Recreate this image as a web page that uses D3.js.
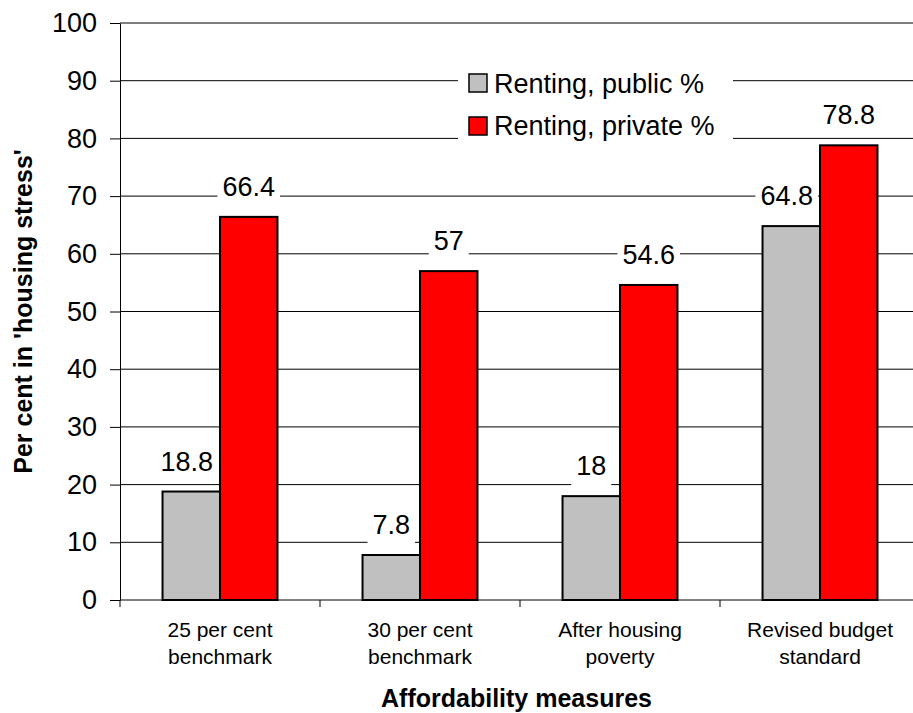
<!DOCTYPE html>
<html>
<head>
<meta charset="utf-8">
<script src="https://cdn.jsdelivr.net/npm/d3@7"></script>
<style>
  body { margin: 0; background: #fff; }
  svg { display: block; font-family: Arial, "Liberation Sans", sans-serif; }
</style>
</head>
<body>
<svg width="913" height="713"></svg>
<script>
// chart data
const categories = ['25 per cent benchmark', '30 per cent benchmark', 'After housing poverty', 'Revised budget standard'];
const categoryLines = [['25 per cent', 'benchmark'], ['30 per cent', 'benchmark'], ['After housing', 'poverty'], ['Revised budget', 'standard']];
const seriesNames = ['Renting, public %', 'Renting, private %'];
const publicVals = [18.8, 7.8, 18, 64.8];
const privateVals = [66.4, 57, 54.6, 78.8];
const yTicks = [0, 10, 20, 30, 40, 50, 60, 70, 80, 90, 100];
const colors = ['#c0c0c0', '#ff0000'];

const svg = d3.select('svg');
const W = 913;
const plotLeft = 120, plotRight = 920, plotTop = 23, plotBottom = 600;

const y = d3.scaleLinear().domain([0, 100]).range([plotBottom, plotTop]);
const x0 = d3.scaleBand().domain(categories).range([plotLeft, plotRight]);
const x1 = d3.scaleBand().domain(seriesNames).range([0, x0.bandwidth()])
  .paddingInner(0).paddingOuter(0.74);

// gridlines
svg.append('g').selectAll('line')
  .data(yTicks.filter(d => d > 0))
  .enter().append('line')
  .attr('x1', plotLeft).attr('x2', W)
  .attr('y1', d => y(d)).attr('y2', d => y(d))
  .attr('stroke', '#000').attr('stroke-width', 1);

// bars
const rows = categories.map((c, i) => ({ cat: c, vals: [publicVals[i], privateVals[i]] }));

const group = svg.append('g').selectAll('g')
  .data(rows)
  .enter().append('g')
  .attr('transform', d => `translate(${x0(d.cat)},0)`);

group.selectAll('rect')
  .data(d => d.vals.map((v, j) => ({ key: seriesNames[j], v, j })))
  .enter().append('rect')
  .attr('x', d => x1(d.key))
  .attr('y', d => y(d.v))
  .attr('width', x1.bandwidth())
  .attr('height', d => y(0) - y(d.v))
  .attr('fill', d => colors[d.j])
  .attr('stroke', '#000')
  .attr('stroke-width', 2);

// x axis
svg.append('line')
  .attr('x1', plotLeft).attr('x2', W)
  .attr('y1', plotBottom).attr('y2', plotBottom)
  .attr('stroke', '#000');

svg.append('g').selectAll('line')
  .data(categories)
  .enter().append('line')
  .attr('x1', d => x0(d)).attr('x2', d => x0(d))
  .attr('y1', plotBottom).attr('y2', plotBottom + 7)
  .attr('stroke', '#000');

svg.append('g').selectAll('text')
  .data(categories)
  .enter().append('text')
  .attr('text-anchor', 'middle')
  .attr('font-size', 21)
  .attr('fill', '#000')
  .each(function (d, i) {
    const t = d3.select(this);
    categoryLines[i].forEach((ln, k) => {
      t.append('tspan')
        .attr('x', x0(d) + x0.bandwidth() / 2)
        .attr('y', plotBottom + 37 + k * 27)
        .text(ln);
    });
  });

// y axis
const yAxis = svg.append('g')
  .attr('transform', `translate(${plotLeft},0)`)
  .call(d3.axisLeft(y).tickValues(yTicks).tickSize(10).tickSizeOuter(0).tickPadding(13));
yAxis.select('.domain').attr('stroke', '#000');
yAxis.selectAll('.tick line').attr('stroke', '#000');
yAxis.selectAll('.tick text')
  .attr('font-size', 27)
  .attr('font-family', 'Arial, "Liberation Sans", sans-serif')
  .attr('fill', '#000');

// data labels with white boxes
const labels = svg.append('g');
rows.forEach(r => {
  r.vals.forEach((v, j) => {
    const bx = x0(r.cat) + x1(seriesNames[j]);
    const bw = x1.bandwidth();
    const g = labels.append('g');
    const txt = g.append('text')
      .attr('font-size', 27)
      .attr('text-anchor', 'middle')
      .attr('fill', '#000')
      .attr('x', bx + bw / 2)
      .attr('y', y(v) - 21)
      .text(String(v));
    const bb = txt.node().getBBox();
    let bl = bb.x - 5, br = bb.x + bb.width + 5;
    // keep the box from running onto the neighbouring bar
    if (j === 0 && br > bx + bw - 2) {
      const shift = br - (bx + bw - 2);
      bl -= shift; br -= shift;
      txt.attr('x', bx + bw / 2 - shift);
    }
    g.insert('rect', 'text')
      .attr('x', bl).attr('y', y(v) - 45)
      .attr('width', br - bl).attr('height', 36)
      .attr('fill', '#fff');
  });
});

// legend
const legend = svg.append('g');
legend.append('rect')
  .attr('x', 458).attr('y', 60).attr('width', 275).attr('height', 86)
  .attr('fill', '#fff');
seriesNames.forEach((s, i) => {
  legend.append('rect')
    .attr('x', 469).attr('y', 74 + i * 43)
    .attr('width', 18).attr('height', 18)
    .attr('fill', colors[i]).attr('stroke', '#000').attr('stroke-width', 1.5);
  legend.append('text')
    .attr('x', 494).attr('y', 93 + i * 42)
    .attr('font-size', 27)
    .attr('fill', '#000')
    .text(s);
});

// axis titles
svg.append('text')
  .attr('x', (plotLeft + W) / 2).attr('y', 707)
  .attr('text-anchor', 'middle')
  .attr('font-size', 25).attr('font-weight', 'bold')
  .text('Affordability measures');

svg.append('text')
  .attr('transform', `translate(32,${(plotTop + plotBottom) / 2}) rotate(-90)`)
  .attr('text-anchor', 'middle')
  .attr('font-size', 25).attr('font-weight', 'bold')
  .text("Per cent in 'housing stress'");
</script>
</body>
</html>
